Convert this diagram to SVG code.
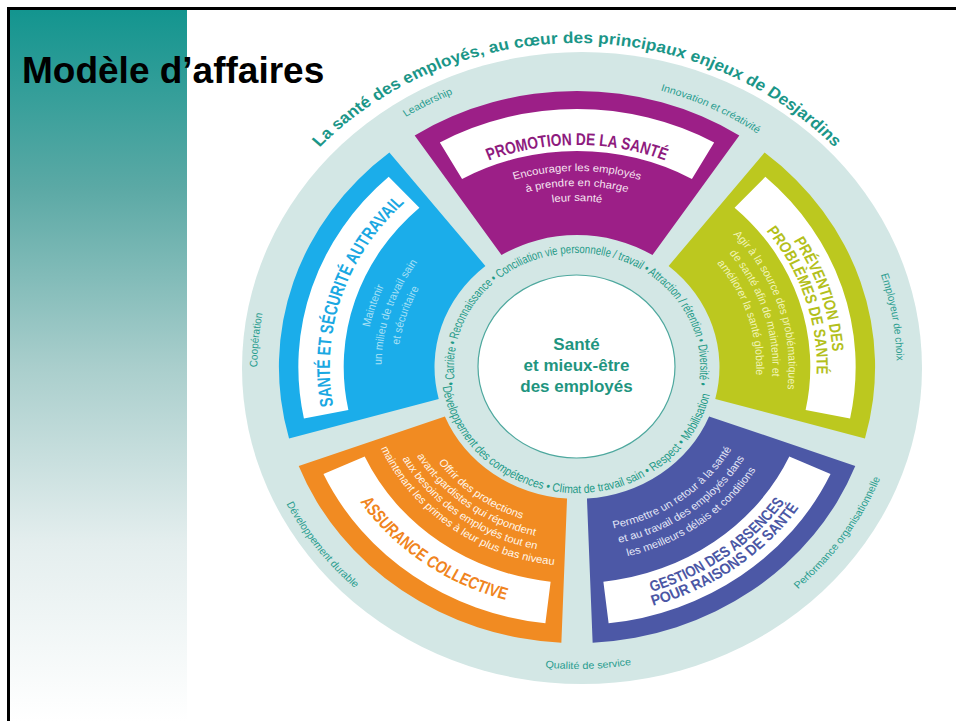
<svg xmlns="http://www.w3.org/2000/svg" width="956" height="721" viewBox="0 0 956 721">
<style>
text{font-family:"Liberation Sans",Arial,sans-serif;}
.h{font-weight:bold;text-anchor:middle;}
.d{font-size:10.5px;text-anchor:middle;}
.l{font-size:10px;fill:#2a9d8f;text-anchor:middle;}
.r{font-size:12px;fill:#1f9a87;}
.c{font-size:17px;font-weight:bold;fill:#1f957f;text-anchor:middle;}
</style>
<defs>
<linearGradient id="panelGrad" x1="0" y1="10" x2="0" y2="721" gradientUnits="userSpaceOnUse">
<stop offset="0" stop-color="#13958f"/>
<stop offset="0.25" stop-color="#5ba9a5"/>
<stop offset="0.5" stop-color="#a9cecc"/>
<stop offset="0.75" stop-color="#e4eeee"/>
<stop offset="1" stop-color="#ffffff"/>
</linearGradient>
<path id="seg" d="M -150.3 -231.5 A 276 276 0 0 1 150.3 -231.5 L 69.9 -111.9 A 132 132 0 0 0 -69.9 -111.9 Z"/>
<path id="band" d="M -127 -224.6 A 258 258 0 0 1 127 -224.6 L 106.4 -188 A 216 216 0 0 0 -106.4 -188 Z"/>
<path id="T166" d="M -117.38 -117.38 A 166 166 0 0 1 117.38 -117.38"/>
<path id="T181" d="M -127.99 -127.99 A 181 181 0 0 1 127.99 -127.99"/>
<path id="T196" d="M -138.59 -138.59 A 196 196 0 0 1 138.59 -138.59"/>
<path id="T222" d="M -156.98 -156.98 A 222 222 0 0 1 156.98 -156.98"/>
<path id="T229" d="M -161.93 -161.93 A 229 229 0 0 1 161.93 -161.93"/>
<path id="T237" d="M -167.58 -167.58 A 237 237 0 0 1 167.58 -167.58"/>
<path id="T287" d="M -202.94 -202.94 A 287 287 0 0 1 202.94 -202.94"/>
<path id="T296" d="M -209.3 -209.3 A 296 296 0 0 1 209.3 -209.3"/>
<path id="B160" d="M -113.14 113.14 A 160 160 0 0 0 113.14 113.14"/>
<path id="B173" d="M -122.33 122.33 A 173 173 0 0 0 122.33 122.33"/>
<path id="B186" d="M -131.52 131.52 A 186 186 0 0 0 131.52 131.52"/>
<path id="B199" d="M -140.71 140.71 A 199 199 0 0 0 140.71 140.71"/>
<path id="B165" d="M -116.67 116.67 A 165 165 0 0 0 116.67 116.67"/>
<path id="B180" d="M -127.28 127.28 A 180 180 0 0 0 127.28 127.28"/>
<path id="B195" d="M -137.89 137.89 A 195 195 0 0 0 137.89 137.89"/>
<path id="B235" d="M -166.17 166.17 A 235 235 0 0 0 166.17 166.17"/>
<path id="B242" d="M -171.12 171.12 A 242 242 0 0 0 171.12 171.12"/>
<path id="B249" d="M -176.07 176.07 A 249 249 0 0 0 176.07 176.07"/>
<path id="B302" d="M -213.55 213.55 A 302 302 0 0 0 213.55 213.55"/>
<path id="RT" d="M -112.6 17.8 A 114 114 0 1 1 111.9 21.8"/>
<path id="RB" d="M -124.5 19.7 A 126 126 0 0 0 123.7 24"/>
<path id="TT" d="M -248.18 -208.24 A 324 324 0 0 1 248.18 -208.24"/>
</defs>

<rect x="0" y="0" width="956" height="721" fill="#ffffff"/>
<g id="slide-frame">
<rect x="10" y="10" width="177" height="711" fill="url(#panelGrad)"/>
<line x1="7" y1="8.5" x2="956" y2="8.5" stroke="#000" stroke-width="3"/>
<line x1="8.5" y1="7" x2="8.5" y2="721" stroke="#000" stroke-width="3"/>
</g>

<g id="disc">
<ellipse cx="582" cy="368" rx="340" ry="316" fill="#d3e7e5"/>
</g>

<g id="connectors"></g>

<g id="wheel" transform="translate(577 367) scale(1.08 1)">
<g id="title-arc">
<text class="h" font-size="16" fill="#1b9688"><textPath href="#TT" startOffset="50%" textLength="535" lengthAdjust="spacing">La santé des employés, au cœur des principaux enjeux de Desjardins</textPath></text>
</g>

<g id="node-promotion">
<use href="#seg" fill="#9c1f87"/>
<use href="#band" fill="#ffffff"/>
<text class="h" font-size="17" fill="#8e1b7e"><textPath href="#T222" startOffset="50%" textLength="167" lengthAdjust="spacingAndGlyphs">PROMOTION DE LA SANTÉ</textPath></text>
<text class="d" fill="#f6e4f1"><textPath href="#T196" startOffset="50%">Encourager les employés</textPath></text>
<text class="d" fill="#f6e4f1"><textPath href="#T181" startOffset="50%">à prendre en charge</textPath></text>
<text class="d" fill="#f6e4f1"><textPath href="#T166" startOffset="50%">leur santé</textPath></text>
</g>

<g id="node-prevention">
<use href="#seg" fill="#bcc81f" transform="rotate(72)"/>
<use href="#band" fill="#ffffff" transform="rotate(72)"/>
<g transform="rotate(72)">
<text class="h" font-size="15" fill="#b3c01c"><textPath href="#T237" startOffset="50%" textLength="118" lengthAdjust="spacingAndGlyphs">PRÉVENTION DES</textPath></text>
<text class="h" font-size="15" fill="#b3c01c"><textPath href="#T222" startOffset="50%" textLength="154" lengthAdjust="spacingAndGlyphs">PROBLÈMES DE SANTÉ</textPath></text>
<text class="d" fill="#f1f4b8"><textPath href="#T196" startOffset="50%">Agir à la source des problématiques</textPath></text>
<text class="d" fill="#f1f4b8"><textPath href="#T181" startOffset="50%">de santé afin de maintenir et</textPath></text>
<text class="d" fill="#f1f4b8"><textPath href="#T166" startOffset="50%">améliorer la santé globale</textPath></text>
</g>
</g>

<g id="node-gestion">
<use href="#seg" fill="#4c58a6" transform="rotate(144)"/>
<use href="#band" fill="#ffffff" transform="rotate(144)"/>
<g transform="rotate(-36)">
<text class="h" font-size="15" fill="#4b57a5"><textPath href="#B235" startOffset="50%" textLength="155" lengthAdjust="spacingAndGlyphs">GESTION DES ABSENCES</textPath></text>
<text class="h" font-size="15" fill="#4b57a5"><textPath href="#B249" startOffset="50%" textLength="170" lengthAdjust="spacingAndGlyphs">POUR RAISONS DE SANTÉ</textPath></text>
<text class="d" fill="#e3e6f6"><textPath href="#B165" startOffset="50%">Permettre un retour à la santé</textPath></text>
<text class="d" fill="#e3e6f6"><textPath href="#B180" startOffset="50%">et au travail des employés dans</textPath></text>
<text class="d" fill="#e3e6f6"><textPath href="#B195" startOffset="50%">les meilleurs délais et conditions</textPath></text>
</g>
</g>

<g id="node-assurance">
<use href="#seg" fill="#f18b22" transform="rotate(216)"/>
<use href="#band" fill="#ffffff" transform="rotate(216)"/>
<g transform="rotate(36)">
<text class="h" font-size="17" fill="#f08420"><textPath href="#B242" startOffset="50%" textLength="170" lengthAdjust="spacingAndGlyphs">ASSURANCE COLLECTIVE</textPath></text>
<text class="d" fill="#fff6ea"><textPath href="#B160" startOffset="50%">Offrir des protections</textPath></text>
<text class="d" fill="#fff6ea"><textPath href="#B173" startOffset="50%">avant-gardistes qui répondent</textPath></text>
<text class="d" fill="#fff6ea"><textPath href="#B186" startOffset="50%">aux besoins des employés tout en</textPath></text>
<text class="d" fill="#fff6ea"><textPath href="#B199" startOffset="50%">maintenant les primes à leur plus bas niveau</textPath></text>
</g>
</g>

<g id="node-sante-securite">
<use href="#seg" fill="#1badea" transform="rotate(288)"/>
<use href="#band" fill="#ffffff" transform="rotate(288)"/>
<g transform="rotate(-72)">
<text class="h" font-size="17" fill="#1aa8e2"><textPath href="#T229" startOffset="50%" textLength="222" lengthAdjust="spacingAndGlyphs">SANTÉ ET SÉCURITÉ AUTRAVAIL</textPath></text>
<text class="d" fill="#a9e0f6"><textPath href="#T196" startOffset="50%">Maintenir</textPath></text>
<text class="d" fill="#a9e0f6"><textPath href="#T181" startOffset="50%">un milieu de travail sain</textPath></text>
<text class="d" fill="#a9e0f6"><textPath href="#T166" startOffset="50%">et sécuritaire</textPath></text>
</g>
</g>

<g id="ring-values">
<text class="r"><textPath href="#RT" textLength="394" lengthAdjust="spacingAndGlyphs">• Carrière • Reconnaissance • Conciliation vie personnelle / travail • Attraction / rétention • Diversité •</textPath></text>
<text class="r"><textPath href="#RB" textLength="348" lengthAdjust="spacingAndGlyphs">Développement des compétences • Climat de travail sain • Respect • Mobilisation</textPath></text>
</g>

<g id="outer-labels">
<g transform="rotate(-27.6)"><text class="l"><textPath href="#T296" startOffset="50%">Leadership</textPath></text></g>
<g transform="rotate(25.6)"><text class="l"><textPath href="#T287" startOffset="50%">Innovation et créativité</textPath></text></g>
<g transform="rotate(80.3)"><text class="l"><textPath href="#T296" startOffset="50%">Employeur de choix</textPath></text></g>
<g transform="rotate(-84.8)"><text class="l"><textPath href="#T296" startOffset="50%">Coopération</textPath></text></g>
<g transform="rotate(-55.5)"><text class="l"><textPath href="#B302" startOffset="50%">Performance organisationnelle</textPath></text></g>
<g transform="rotate(-2)"><text class="l"><textPath href="#B302" startOffset="50%">Qualité de service</textPath></text></g>
<g transform="rotate(53)"><text class="l"><textPath href="#B302" startOffset="50%">Développement durable</textPath></text></g>
</g>
</g>

<g id="node-centre">
<ellipse cx="576.5" cy="366.5" rx="98.5" ry="91.5" fill="#ffffff" stroke="#4ea89e" stroke-width="1.2"/>
<text class="c" x="576.5" y="350">Santé</text>
<text class="c" x="576.5" y="371">et mieux-être</text>
<text class="c" x="576.5" y="392">des employés</text>
</g>

<g id="title">
<text x="22" y="83" font-size="37" font-weight="bold" fill="#000">Modèle d’affaires</text>
</g>
</svg>
